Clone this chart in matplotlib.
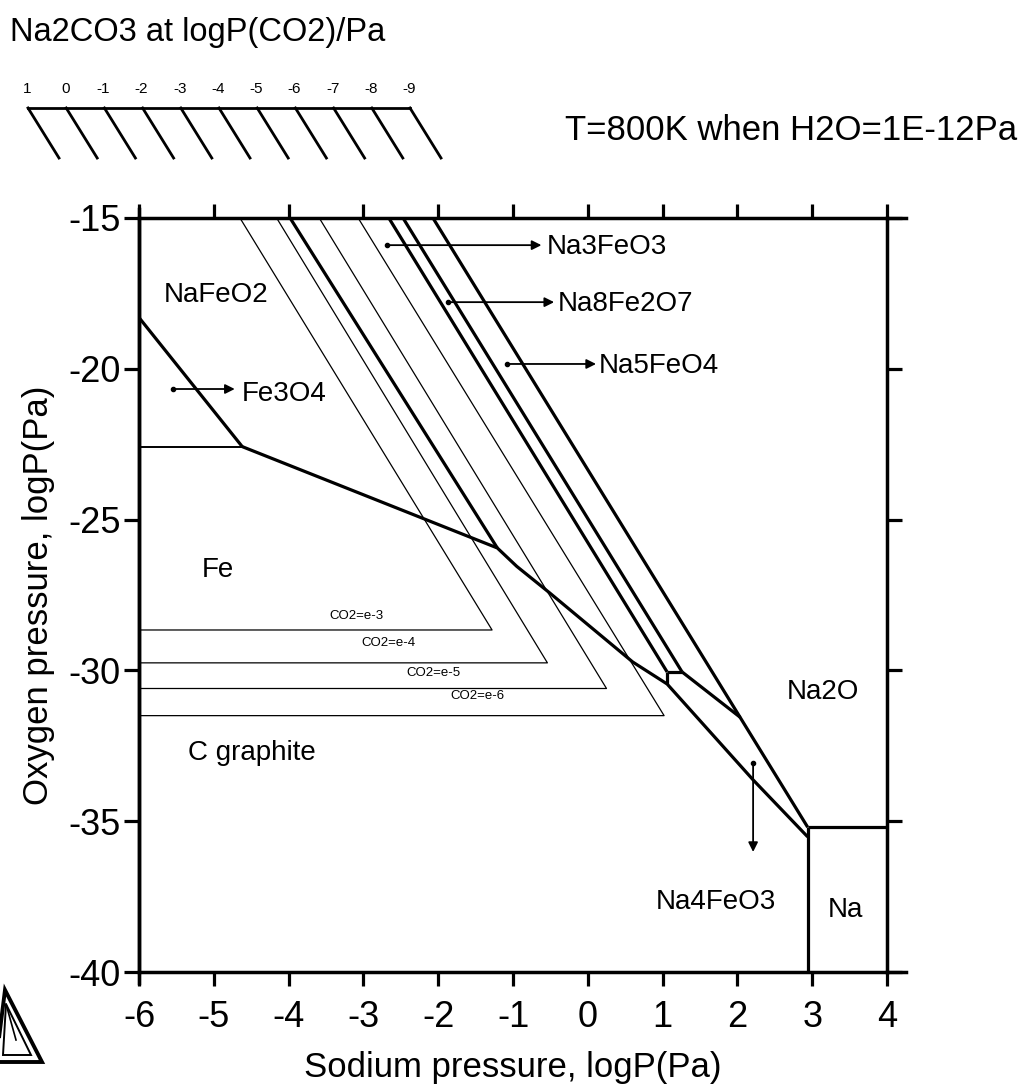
import matplotlib
matplotlib.use('Agg')
import matplotlib.pyplot as plt
from matplotlib.lines import Line2D
from matplotlib.patches import Polygon

plt.rcParams['font.family'] = ['Liberation Sans', 'DejaVu Sans']
plt.rcParams['axes.unicode_minus'] = False

W, H = 1027, 1091

# --- phase boundaries (logP(Na), logP(O2)) ---
fe3o4_x = [-6.0, -4.62]            # NaFeO2 / Fe3O4
fe3o4_y = [-18.3, -22.58]
fe3o4_low_x = [-6.0, -4.62]        # Fe3O4 / Fe
fe3o4_low_y = [-22.58, -22.58]
fe_x = [-4.62, -1.21, -0.95, -0.51, 0.60, 1.06, 2.21, 2.94]   # Fe / oxides
fe_y = [-22.58, -25.94, -26.55, -27.43, -29.72, -30.45, -33.63, -35.52]
l1_x = [-3.98, -1.21]              # NaFeO2 / Na3FeO3
l1_y = [-15.0, -25.94]
l2_x = [-2.66, 1.06]               # Na3FeO3 / Na8Fe2O7
l2_y = [-15.0, -30.05]
l3_x = [-2.47, 1.26]               # Na8Fe2O7 / Na5FeO4
l3_y = [-15.0, -30.05]
box_x = [1.06, 1.26]
box_y = [-30.05, -30.05]
vert_x = [1.06, 1.06]
vert_y = [-30.05, -30.45]
c_x = [1.26, 2.04]                 # Na5FeO4 / Na4FeO3
c_y = [-30.05, -31.56]
l4_x = [-2.07, 2.94]               # Na5FeO4, Na4FeO3 / Na2O
l4_y = [-15.0, -35.2]
na_top_x = [2.94, 4.0]
na_top_y = [-35.2, -35.2]
na_left_x = [2.94, 2.94]
na_left_y = [-35.2, -40.0]

# --- CO2 isobars (thin) ---
co2_labels = ['CO2=e-3', 'CO2=e-4', 'CO2=e-5', 'CO2=e-6']
co2_top_x = [-4.65, -4.16, -3.59, -3.07]
co2_apex_x = [-1.28, -0.54, 0.25, 1.02]
co2_level = [-28.66, -29.75, -30.6, -31.5]
co2_text_x = [-3.09, -2.67, -2.06, -1.47]
co2_text_y = [-28.4, -29.3, -30.3, -31.05]

# --- region labels ---
region_names = ['NaFeO2', 'Fe3O4', 'Fe', 'C graphite', 'Na2O', 'Na4FeO3', 'Na',
                'Na3FeO3', 'Na8Fe2O7', 'Na5FeO4']
region_x = [-4.97, -4.62, -4.94, -5.35, 3.15, 1.71, 3.44, -0.55, -0.40, 0.15]
region_y = [-17.55, -20.85, -26.67, -32.75, -30.72, -37.68, -37.94,
            -15.95, -17.85, -19.9]
region_ha = ['center', 'left', 'center', 'left', 'center', 'center', 'center',
             'left', 'left', 'left']

# pointer arrows (start x, start y, end x, end y)
arrows = [(-5.55, -20.67, -4.72, -20.67),
          (-2.68, -15.9, -0.62, -15.9),
          (-1.87, -17.79, -0.45, -17.79),
          (-1.08, -19.84, 0.11, -19.84),
          (2.21, -33.07, 2.21, -36.02)]

# header scale of logP(CO2)
co2_scale = ['1', '0', '-1', '-2', '-3', '-4', '-5', '-6', '-7', '-8', '-9']

x_ticks = [-6, -5, -4, -3, -2, -1, 0, 1, 2, 3, 4]
y_ticks = [-15, -20, -25, -30, -35, -40]

fig = plt.figure(figsize=(W / 100, H / 100), dpi=100)
ax = fig.add_axes([139 / W, 1 - 972 / H, (887 - 139) / W, (972 - 218) / H])

thick = dict(color='black', lw=2.3, solid_capstyle='butt')
thin = dict(color='black', lw=0.9)

for xs, ys in [(fe3o4_x, fe3o4_y), (fe_x, fe_y), (l1_x, l1_y), (l2_x, l2_y),
               (l3_x, l3_y), (box_x, box_y), (vert_x, vert_y), (c_x, c_y),
               (l4_x, l4_y), (na_top_x, na_top_y), (na_left_x, na_left_y)]:
    ax.plot(xs, ys, **thick)
ax.plot(fe3o4_low_x, fe3o4_low_y, color='black', lw=1.4)

for tx, axx, lev, lab, lx, ly in zip(co2_top_x, co2_apex_x, co2_level,
                                     co2_labels, co2_text_x, co2_text_y):
    ax.plot([tx, axx, -6], [-15, lev, lev], **thin)
    ax.text(lx, ly, lab, fontsize=9.5, ha='center', va='bottom')

for name, x, y, ha in zip(region_names, region_x, region_y, region_ha):
    ax.text(x, y, name, fontsize=20, ha=ha, va='center')

for x0, y0, x1, y1 in arrows:
    ax.annotate('', xy=(x1, y1), xytext=(x0, y0),
                arrowprops=dict(arrowstyle='-|>', color='black', lw=1.3,
                                mutation_scale=14, shrinkA=0, shrinkB=0))
    ax.plot([x0], [y0], marker='o', ms=3, color='black')

ax.set_xlim(-6, 4)
ax.set_ylim(-40, -15)
ax.set_xticks(x_ticks)
ax.set_yticks(y_ticks)
ax.tick_params(direction='out', width=2.3, length=10, labelsize=26,
               top=True, right=True, pad=10)
ax.tick_params(axis='y', length=11, pad=2)
for s in ax.spines.values():
    s.set_linewidth(2.5)

ax.set_xlabel('Sodium pressure, logP(Pa)', fontsize=25, labelpad=12)
ax.set_ylabel('Oxygen pressure, logP(Pa)', fontsize=25, labelpad=10)

# extended frame lines past the corners
for yy in (0, 1):
    ax.plot([1, 1.025], [yy, yy], transform=ax.transAxes, clip_on=False,
            color='black', lw=2.5)
ax.plot([0, 0], [-0.015, 1.012], transform=ax.transAxes, clip_on=False,
        color='black', lw=2.5)


def fx(px):
    return px / W


def fy(py):
    return 1 - py / H


fig.text(fx(10), fy(32), 'Na2CO3 at logP(CO2)/Pa', fontsize=23.5,
         ha='left', va='center')
fig.text(fx(565), fy(130), 'T=800K when H2O=1E-12Pa', fontsize=25,
         ha='left', va='center')

# CO2 scale in header
x0, step = 28, 38.2
fig.add_artist(Line2D([fx(x0), fx(x0 + 10 * step)], [fy(108), fy(108)],
                      color='black', lw=2.0))
for i, lab in enumerate(co2_scale):
    xs = x0 + i * step
    fig.add_artist(Line2D([fx(xs), fx(xs + 31)], [fy(108), fy(158)],
                          color='black', lw=2.0))
    fig.text(fx(xs - 1), fy(89), lab, fontsize=11, ha='center', va='center')

# logo
fig.add_artist(Polygon([(fx(-4), fy(1062)), (fx(42), fy(1062)), (fx(5), fy(990))],
                       closed=True, fill=False, lw=2.8, ec='black'))
fig.add_artist(Polygon([(fx(3), fy(1055)), (fx(31), fy(1055)), (fx(6), fy(1004))],
                       closed=True, fill=False, lw=1.4, ec='black'))
fig.add_artist(Line2D([fx(6), fx(16)], [fy(1004), fy(1040)], color='black', lw=1.2))

fig.savefig('out.png', dpi=100)
